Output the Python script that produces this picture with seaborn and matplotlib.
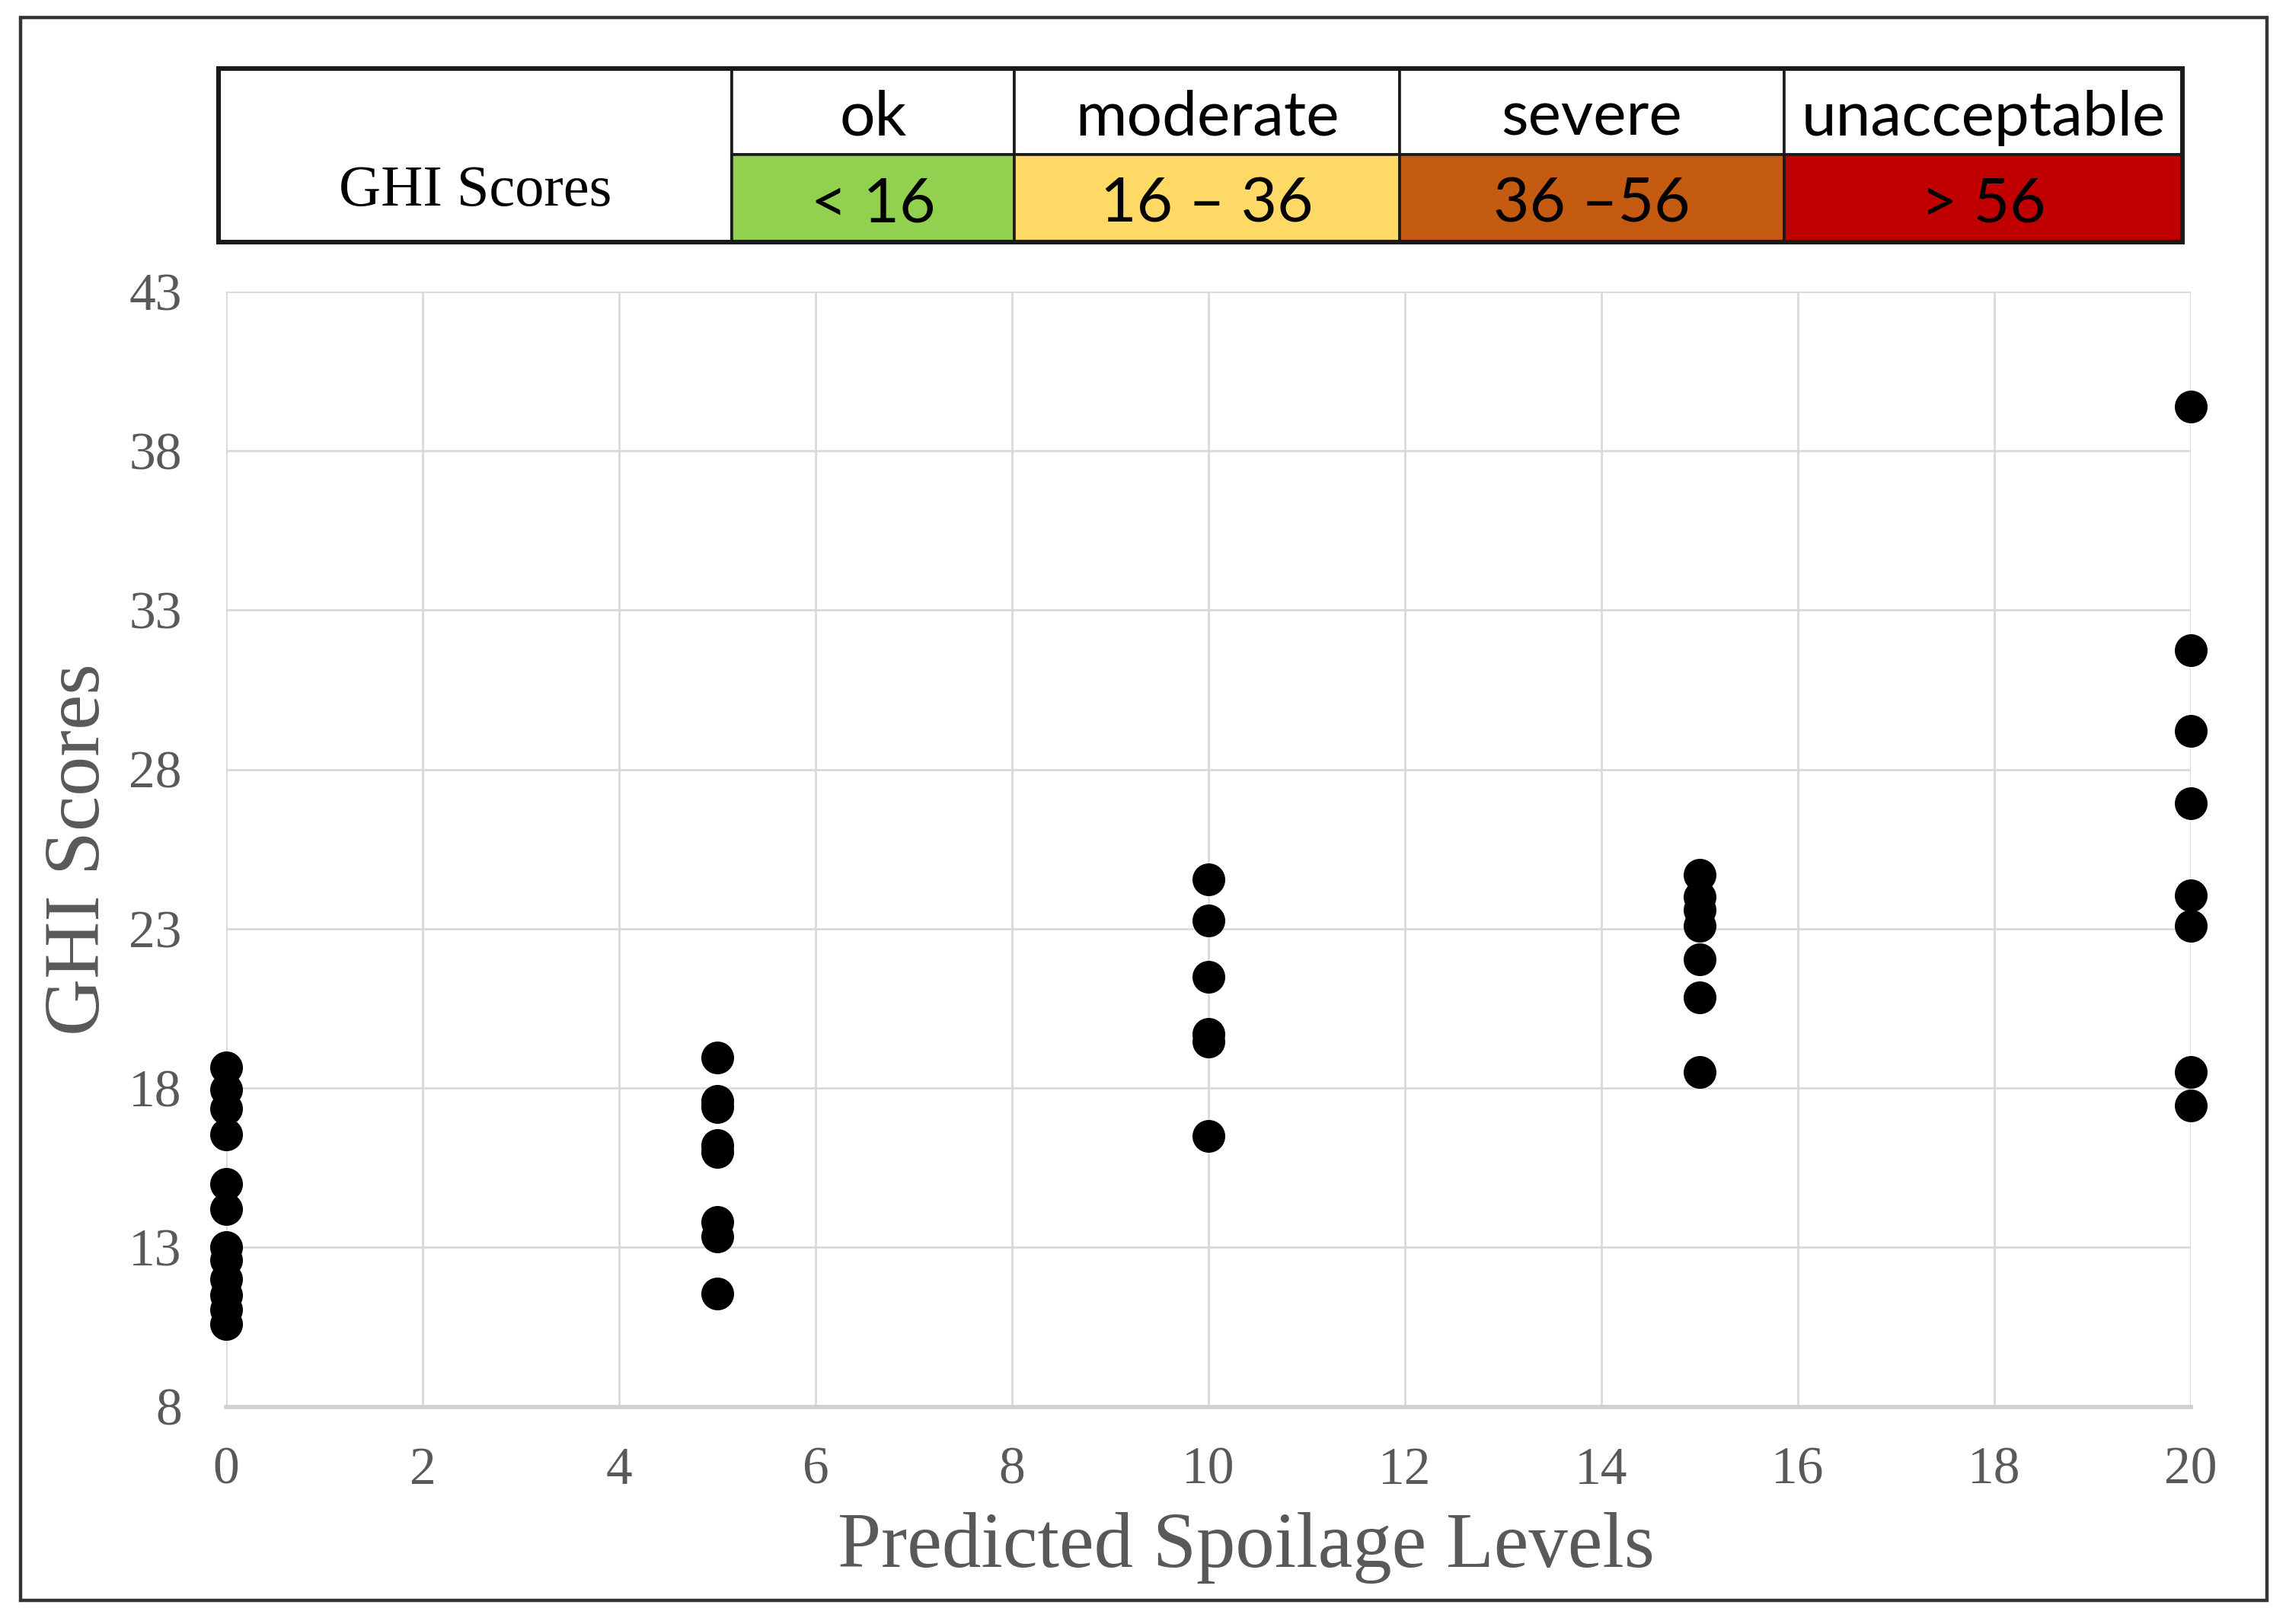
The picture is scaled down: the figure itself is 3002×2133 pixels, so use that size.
import numpy as np
import pandas as pd
import matplotlib.pyplot as plt
import matplotlib.patches as mpatches
import seaborn as sns

# GHI scores, one list per spoilage level
ghi_0 = [18.65, 17.95, 17.35, 16.55, 15.0, 14.2, 13.0, 12.6, 12.0, 11.5, 11.05, 10.6]
ghi_5 = [18.95, 17.6, 17.4, 16.2, 16.0, 13.8, 13.35, 11.55]
ghi_10 = [24.55, 23.25, 21.5, 19.7, 19.45, 16.5]
ghi_15 = [24.7, 24.0, 23.6, 23.1, 22.05, 20.85, 18.5]
ghi_20 = [39.4, 31.75, 29.2, 26.95, 24.05, 23.1, 18.5, 17.45]
spoilage_levels = [0, 5, 10, 15, 20]

x_ticks = [0, 2, 4, 6, 8, 10, 12, 14, 16, 18, 20]
y_ticks = [8, 13, 18, 23, 28, 33, 38, 43]

# legend table at the top
table_title = "GHI Scores"
levels = ["ok", "moderate", "severe", "unacceptable"]
ranges = ["< 16", "16 \u2013 36", "36 \u201356", "> 56"]
level_colors = ["#92D050", "#FFD966", "#C55A11", "#C00000"]

groups = [ghi_0, ghi_5, ghi_10, ghi_15, ghi_20]
df = pd.DataFrame({
    "Predicted Spoilage Levels": np.repeat(spoilage_levels, [len(g) for g in groups]),
    "GHI Scores": np.concatenate(groups),
})

sns.set_theme(style="white")
plt.rcParams["font.family"] = ["Liberation Serif", "DejaVu Serif"]

W, H = 3002, 2133
fig = plt.figure(figsize=(W / 200, H / 200), dpi=200)

ax = fig.add_axes([297 / W, 1 - 1847.5 / H, 2580 / W, 1464.5 / H])
sns.scatterplot(data=df, x="Predicted Spoilage Levels", y="GHI Scores", ax=ax,
                color="black", s=240, edgecolor="black", linewidth=0, zorder=3,
                clip_on=False)

ax.set_xlim(0, 20)
ax.set_ylim(8, 43)
ax.set_xticks(x_ticks)
ax.set_yticks(y_ticks)
ax.grid(True, color="#D9D9D9", linewidth=1.0)
ax.set_axisbelow(True)
for side in ["left", "right", "top"]:
    ax.spines[side].set_visible(False)
ax.spines["bottom"].set_color("#D0D0D0")
ax.spines["bottom"].set_linewidth(2.0)
ax.tick_params(axis="both", length=0, labelsize=25, labelcolor="#595959")
ax.tick_params(axis="x", pad=19)
ax.tick_params(axis="y", pad=21)

ax.set_xlabel("Predicted Spoilage Levels", fontsize=37, color="#595959")
ax.set_ylabel("GHI Scores", fontsize=37.5, color="#595959")
ax.xaxis.label.set_va("center")
ax.yaxis.label.set_va("center")
ax.xaxis.set_label_coords(0.519, -0.127)
ax.yaxis.set_label_coords(-0.0744, 0.5)

# table drawn in its own axes
tab = fig.add_axes([287 / W, 1 - 318 / H, 2579 / W, 228 / H])
tab.set_xlim(0, 1)
tab.set_ylim(0, 1)
tab.axis("off")
col_edges = [0, 0.2613, 0.4052, 0.6014, 0.7972, 1.0]
mid = 0.504
tab.add_patch(mpatches.Rectangle((0, 0), col_edges[1], 1, facecolor="white",
                                 edgecolor="#1a1a1a", linewidth=1.3))
tab.text(col_edges[1] / 2, 0.29, table_title, ha="center", va="center",
         fontsize=27.5, color="black", family=["Liberation Serif"])
for i, (lev, rng, col) in enumerate(zip(levels, ranges, level_colors)):
    x0, x1 = col_edges[i + 1], col_edges[i + 2]
    tab.add_patch(mpatches.Rectangle((x0, mid), x1 - x0, 1 - mid, facecolor="white",
                                     edgecolor="#1a1a1a", linewidth=1.3))
    tab.add_patch(mpatches.Rectangle((x0, 0), x1 - x0, mid, facecolor=col,
                                     edgecolor="#1a1a1a", linewidth=1.3))
    tab.text((x0 + x1) / 2, 0.715, lev, ha="center", va="center",
             fontsize=29.5, color="black", family=["Lato", "DejaVu Sans"])
    tab.text((x0 + x1) / 2, 0.215, rng, ha="center", va="center",
             fontsize=29.5, color="black", family=["Lato", "DejaVu Sans"])
tab.add_patch(mpatches.Rectangle((0, 0), 1, 1, facecolor="none",
                                 edgecolor="#1a1a1a", linewidth=2.2, clip_on=False))

# outer frame around the whole picture
fig.add_artist(mpatches.Rectangle((27 / W, 1 - 2102 / H), 2950 / W, 2079 / H,
                                  transform=fig.transFigure, facecolor="none",
                                  edgecolor="#333333", linewidth=1.6))

fig.savefig("out.png", dpi=200, facecolor="white")
